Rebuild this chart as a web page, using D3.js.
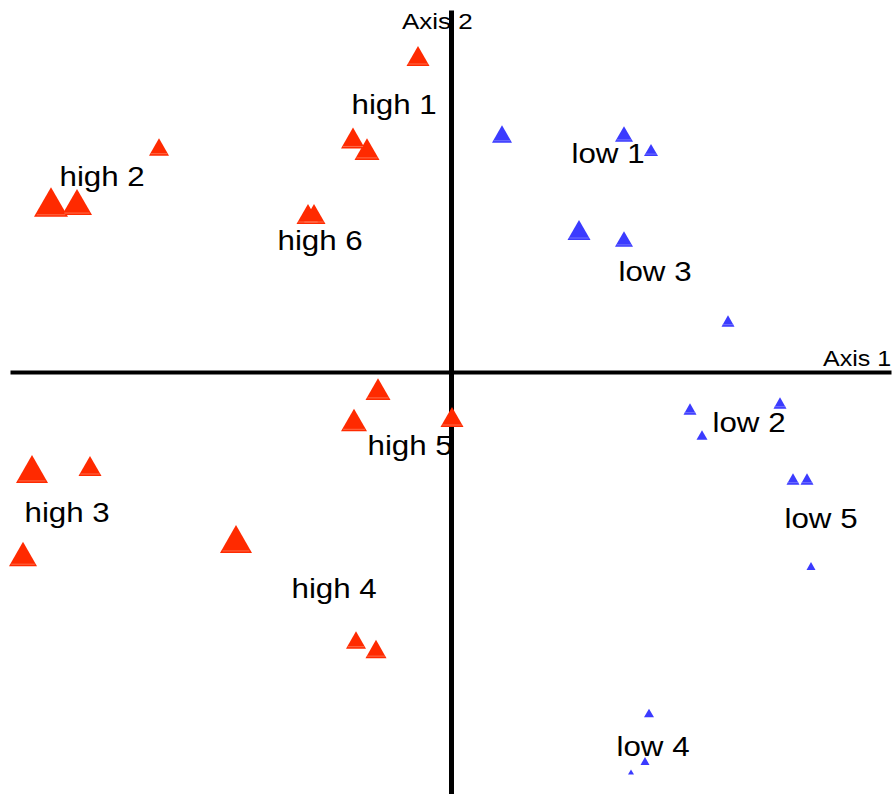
<!DOCTYPE html>
<html>
<head>
<meta charset="utf-8">
<script src="https://cdn.jsdelivr.net/npm/d3@7"></script>
<style>
  html, body { margin: 0; padding: 0; background: #fff; }
  svg { display: block; }
  text { font-family: "Liberation Sans", Arial, Helvetica, sans-serif; fill: #000; }
</style>
</head>
<body>
<svg id="chart" width="894" height="794"></svg>
<script>
// "high" group points: axis-1 / axis-2 coordinates and marker size (base width, px)
const highX = [-0.33, -0.98, -0.84, -2.92, -4.00, -3.74, -1.43, -1.37, -0.73, -0.97, 0.01, -4.19, -3.61, -4.28, -2.15, -0.95, -0.75];
const highY = [3.16, 2.34, 2.23, 2.25, 1.70, 1.70, 1.58, 1.58, -0.17, -0.48, -0.45, -0.97, -0.94, -1.82, -1.67, -2.68, -2.77];
const highSize = [23, 24, 25, 20, 34, 30, 23, 23, 25, 26, 23, 32, 23, 28, 32, 20, 21];

// "low" group points
const lowX = [0.51, 1.73, 2.00, 1.28, 1.73, 2.77, 2.39, 2.51, 3.29, 3.42, 3.56, 3.60, 1.98, 1.94, 1.80];
const lowY = [2.38, 2.38, 2.22, 1.42, 1.33, 0.51, -0.37, -0.63, -0.31, -1.07, -1.07, -1.94, -3.41, -3.89, -4.00];
const lowSize = [20, 18, 14, 23, 18, 13, 13, 11, 13, 13, 13, 9, 10, 9, 6];

// Group labels and their anchor positions in axis units
const labelText = ["high 1", "high 2", "high 6", "high 5", "high 3", "high 4", "low 1", "low 3", "low 2", "low 5", "low 4"];
const labelX = [-0.995, -3.915, -1.735, -0.835, -4.265, -1.595, 1.205, 1.675, 2.615, 3.335, 1.655];
const labelY = [2.58, 1.86, 1.22, -0.83, -1.50, -2.26, 2.09, 0.91, -0.60, -1.56, -3.84];

const axisNames = ["Axis 1", "Axis 2"];

const svg = d3.select("#chart");

const x = d3.scaleLinear().domain([-4.41, 4.40]).range([10, 891]);
const y = d3.scaleLinear().domain([-4.22, 3.62]).range([794, 10]);

// Axes crossing at the origin, no ticks
const xAxis = d3.axisBottom(x).tickValues([]).tickSizeOuter(0);
const yAxis = d3.axisLeft(y).tickValues([]).tickSizeOuter(0);

svg.append("g")
  .attr("transform", `translate(0,${y(0)})`)
  .call(xAxis)
  .call(g => g.select(".domain").attr("stroke", "#000").attr("stroke-width", 4));

svg.append("g")
  .attr("transform", `translate(${x(0)},0)`)
  .call(yAxis)
  .call(g => g.select(".domain").attr("stroke", "#000").attr("stroke-width", 5));

// Axis titles
svg.append("text")
  .attr("transform", `translate(${x(4.40) - 68},${y(0) - 6}) scale(1.14,1)`)
  .attr("font-size", 22)
  .text(axisNames[0]);
svg.append("text")
  .attr("transform", `translate(${x(0) - 49},29) scale(1.18,1)`)
  .attr("font-size", 22)
  .text(axisNames[1]);

// Triangle marker centred on its bounding box
function tri(cx, cy, w) {
  const h = w * 0.87;
  return `M${cx},${cy - h / 2}L${cx + w / 2},${cy + h / 2}L${cx - w / 2},${cy + h / 2}Z`;
}

function drawGroup(xs, ys, sizes, fill, shine) {
  const data = xs.map((v, i) => ({ x: v, y: ys[i], s: sizes[i] }));
  const g = svg.append("g");
  g.selectAll("path.mark")
    .data(data)
    .join("path")
    .attr("class", "mark")
    .attr("d", d => tri(x(d.x), y(d.y), d.s))
    .attr("fill", fill);
  // thin highlight stripe just above each base
  g.selectAll("line.shine")
    .data(data.filter(d => d.s >= 12))
    .join("line")
    .attr("class", "shine")
    .attr("x1", d => x(d.x) - d.s * 0.42)
    .attr("x2", d => x(d.x) + d.s * 0.42)
    .attr("y1", d => y(d.y) + d.s * 0.87 / 2 - 2)
    .attr("y2", d => y(d.y) + d.s * 0.87 / 2 - 2)
    .attr("stroke", shine)
    .attr("stroke-width", 1)
    .attr("opacity", 0.7);
}

drawGroup(highX, highY, highSize, "#ff2a00", "#ff8a6a");
drawGroup(lowX, lowY, lowSize, "#3b3bff", "#8a8aff");

// Group labels
svg.append("g")
  .selectAll("text")
  .data(labelText)
  .join("text")
  .attr("transform", (d, i) => `translate(${x(labelX[i])},${y(labelY[i])}) scale(1.16,1)`)
  .attr("font-size", 27)
  .text(d => d);
</script>
</body>
</html>
